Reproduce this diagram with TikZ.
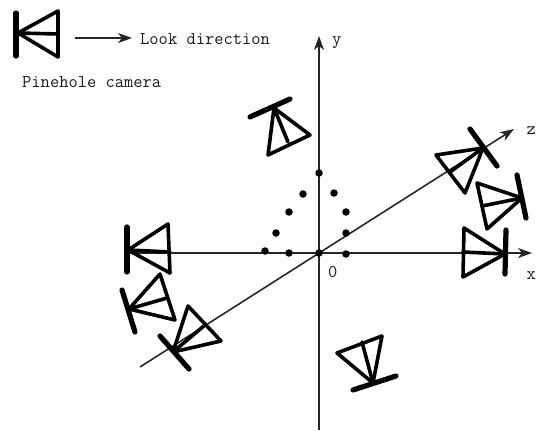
\documentclass[tikz,border=0pt]{standalone}
\usetikzlibrary{arrows.meta}
\tikzset{
  x=1pt,y=-1pt,
  axis/.style={line width=1.6pt,draw=black!85,-{Stealth[length=14pt,width=10pt,inset=4pt]}},
  campen/.style={line width=3.6pt,line cap=round,line join=round,draw=black},
  barpen/.style={line width=5.2pt,line cap=round,draw=black},
  lbl/.style={font=\ttfamily\fontsize{18}{18}\selectfont,text=black!90,inner sep=0pt,anchor=base west},
  pt/.style={circle,fill=black,inner sep=0pt,minimum size=7.5pt}
}
% \camera{name}{bar a}{bar b}{apex}{base a}{base b}{mid}
\newcommand{\camera}[7]{%
  \coordinate (#1ba) at (#2); \coordinate (#1bb) at (#3);
  \coordinate (#1ap) at (#4); \coordinate (#1ca) at (#5);
  \coordinate (#1cb) at (#6); \coordinate (#1mi) at (#7);
  \draw[barpen] (#1ba) -- (#1bb);
  \draw[campen] (#1ap) -- (#1ca) -- (#1cb) -- cycle;
  \draw[campen] (#1ap) -- (#1mi);
}
\begin{document}
\begin{tikzpicture}
\useasboundingbox (0,0) rectangle (536,431);
% axes
\coordinate (xs) at (128,253); \coordinate (xe) at (532,253);
\coordinate (ys) at (319,430); \coordinate (ye) at (319,36);
\coordinate (zs) at (140,367); \coordinate (ze) at (514,129);
\draw[axis] (xs) -- (xe);
\draw[axis] (ys) -- (ye);
\draw[axis] (zs) -- (ze);
% dots
\foreach \n/\p in {a/{319,173},b/{303,194},c/{334,193},d/{289,212},e/{346,212},f/{276,233},g/{346,233},h/{265,251},i/{289,253},j/{319,253},k/{346,254}}
  \node[pt] (dot\n) at (\p) {};
% cameras
\camera{leg}{16,13}{16,56}{18,33}{58,11}{58,57}{58,34}
\camera{zc}{470,129}{497,166}{483,148}{436,155}{465,193}{450,172}
\camera{rc}{517,175}{526,218}{522,198}{477,183}{487,229}{482,206}
\camera{xc}{506,230}{505,274}{505,254}{464,228}{463,277}{463,252}
\camera{la}{127,227}{127,272}{128,250}{168,224}{170,273}{170,252}
\camera{lb}{122,290}{135,332}{129,309}{160,274}{175,320}{167,298}
\camera{lc}{160,336}{189,369}{173,352}{188,306}{221,341}{205,325}
\camera{bo}{353,390}{396,376}{373,383}{337,353}{382,336}{362,342}
\camera{to}{250,117}{290,99}{274,108}{268,155}{310,135}{288,142}
% legend
\coordinate (la1) at (75,38); \coordinate (la2) at (132,38);
\draw[axis] (la1) -- (la2);
\node[lbl] (look) at (140,44) {Look direction};
\node[lbl] (pin) at (22,87) {Pinehole camera};
\node[lbl] (ylab) at (332,44) {y};
\node[lbl] (zlab) at (526.5,134) {z};
\node[lbl] (xlab) at (526.5,279) {x};
\node[lbl] (zero) at (328,277) {0};
\end{tikzpicture}
\end{document}
